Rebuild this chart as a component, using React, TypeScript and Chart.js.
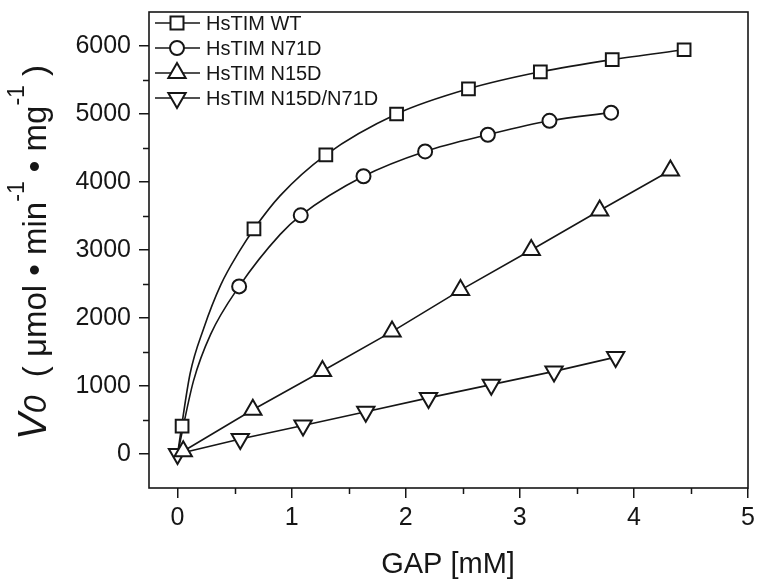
import React, { useEffect, useRef } from 'react';
import { Chart, registerables } from 'chart.js';

Chart.register(...registerables);

// ---- data ----
const WT_X = [0.04, 0.67, 1.3, 1.92, 2.55, 3.18, 3.81, 4.44];
const WT_Y = [410, 3310, 4400, 5000, 5370, 5620, 5800, 5945];
const N71D_X = [0.54, 1.08, 1.63, 2.17, 2.72, 3.26, 3.8];
const N71D_Y = [2465, 3510, 4085, 4450, 4695, 4900, 5020];
const N15D_X = [0.05, 0.66, 1.27, 1.88, 2.48, 3.1, 3.7, 4.32];
const N15D_Y = [40, 650, 1220, 1800, 2410, 3000, 3580, 4170];
const DM_X = [0, 0.55, 1.1, 1.65, 2.2, 2.75, 3.3, 3.84];
const DM_Y = [0, 220, 420, 620, 825, 1020, 1215, 1425];

// fitted curves
const WT_FIT_X = [0, 0.11, 0.23, 0.38, 0.54, 0.67, 0.9, 1.3, 1.92, 2.55, 3.18, 3.81, 4.44];
const WT_FIT_Y = [0, 1180, 1850, 2490, 2975, 3310, 3800, 4400, 5000, 5370, 5620, 5800, 5945];
const N71D_FIT_X = [0, 0.14, 0.29, 0.54, 0.9, 1.08, 1.63, 2.17, 2.72, 3.26, 3.8];
const N71D_FIT_Y = [0, 1075, 1760, 2465, 3230, 3510, 4085, 4450, 4695, 4900, 5020];

const SERIES_LABELS = ['HsTIM WT', 'HsTIM N71D', 'HsTIM N15D', 'HsTIM N15D/N71D'];
const X_TICKS = [0, 1, 2, 3, 4, 5];
const X_MINOR = [0.5, 1.5, 2.5, 3.5, 4.5];
const Y_TICKS = [0, 1000, 2000, 3000, 4000, 5000, 6000];
const Y_MINOR = [500, 1500, 2500, 3500, 4500, 5500];
const X_TITLE = 'GAP [mM]';

const FONT = "'Liberation Sans', Arial, sans-serif";
const INK = '#161616';

const pts = (xs: number[], ys: number[]) => xs.map((x, i) => ({ x, y: ys[i] }));

function drawMarker(ctx: CanvasRenderingContext2D, style: string, x: number, y: number) {
  ctx.beginPath();
  if (style === 'rect') {
    const s = 6.5;
    ctx.rect(x - s, y - s, 2 * s, 2 * s);
  } else if (style === 'circle') {
    ctx.arc(x, y, 7, 0, Math.PI * 2);
  } else {
    const r = 10;
    const d = style === 'triangle' ? 1 : -1;
    ctx.moveTo(x, y - d * r);
    ctx.lineTo(x + r * 0.866, y + (d * r) / 2);
    ctx.lineTo(x - r * 0.866, y + (d * r) / 2);
    ctx.closePath();
  }
  ctx.fillStyle = '#fff';
  ctx.fill();
  ctx.lineWidth = 2;
  ctx.strokeStyle = INK;
  ctx.stroke();
}

const decorPlugin = {
  id: 'decor',
  afterDraw(chart: any) {
    const ctx: CanvasRenderingContext2D = chart.ctx;
    const { left, right, top, bottom } = chart.chartArea;
    const xs = chart.scales.x;
    const ys = chart.scales.y;
    ctx.save();
    // frame
    ctx.strokeStyle = INK;
    ctx.lineWidth = 1.6;
    ctx.strokeRect(left, top, right - left, bottom - top);
    // minor ticks
    ctx.beginPath();
    X_MINOR.forEach((v) => {
      const p = Math.round(xs.getPixelForValue(v)) + 0.5;
      ctx.moveTo(p, bottom);
      ctx.lineTo(p, bottom + 6);
    });
    Y_MINOR.forEach((v) => {
      const p = Math.round(ys.getPixelForValue(v)) + 0.5;
      ctx.moveTo(left, p);
      ctx.lineTo(left - 6, p);
    });
    ctx.lineWidth = 1.5;
    ctx.stroke();

    // legend
    const styles = ['rect', 'circle', 'triangle', 'triangleDown'];
    const rowY = [23, 48, 73, 98];
    SERIES_LABELS.forEach((lab, i) => {
      const y = rowY[i];
      ctx.beginPath();
      ctx.moveTo(155, y);
      ctx.lineTo(200, y);
      ctx.lineWidth = 1.6;
      ctx.strokeStyle = INK;
      ctx.stroke();
      drawMarker(ctx, styles[i], 177, y);
      ctx.fillStyle = INK;
      ctx.font = `20px ${FONT}`;
      ctx.textAlign = 'left';
      ctx.textBaseline = 'middle';
      ctx.fillText(lab, 206, y + 1);
    });

    // x title
    ctx.fillStyle = INK;
    ctx.font = `29px ${FONT}`;
    ctx.textAlign = 'center';
    ctx.textBaseline = 'middle';
    ctx.fillText(X_TITLE, 448, 565);

    // y title (rotated, with italic V0 and superscripts)
    const segs = [
      { t: 'V', size: 40, italic: true, dy: 0 },
      { t: '0', size: 32, italic: true, dy: 0 },
      { t: '  ( \u03bcmol \u2022 min', size: 33, italic: false, dy: 0 },
      { t: '-1', size: 23, italic: false, dy: -22 },
      { t: ' \u2022 mg', size: 33, italic: false, dy: 0 },
      { t: '-1', size: 23, italic: false, dy: -22 },
      { t: ' )', size: 33, italic: false, dy: 0 },
    ];
    ctx.translate(46, 440);
    ctx.rotate(-Math.PI / 2);
    ctx.textAlign = 'left';
    ctx.textBaseline = 'alphabetic';
    let cx = 0;
    segs.forEach((s) => {
      ctx.font = `${s.italic ? 'italic ' : ''}${s.size}px ${FONT}`;
      ctx.fillText(s.t, cx, s.dy);
      cx += ctx.measureText(s.t).width;
    });
    ctx.restore();
  },
};

export default function App() {
  const ref = useRef<HTMLCanvasElement | null>(null);

  useEffect(() => {
    if (!ref.current) return;
    const markerBase = {
      showLine: false,
      borderColor: INK,
      backgroundColor: '#fff',
      pointBorderWidth: 2,
      pointBackgroundColor: '#fff',
      pointBorderColor: INK,
      order: 0,
    };
    const chart = new Chart(ref.current, {
      type: 'scatter',
      data: {
        datasets: [
          { ...markerBase, label: SERIES_LABELS[0], data: pts(WT_X, WT_Y), pointStyle: 'rect', pointRadius: 9 },
          { ...markerBase, label: SERIES_LABELS[1], data: pts(N71D_X, N71D_Y), pointStyle: 'circle', pointRadius: 7 },
          {
            ...markerBase,
            label: SERIES_LABELS[2],
            data: pts(N15D_X, N15D_Y),
            pointStyle: 'triangle',
            pointRadius: 10,
            showLine: true,
            borderWidth: 1.6,
            tension: 0,
          },
          {
            ...markerBase,
            label: SERIES_LABELS[3],
            data: pts(DM_X, DM_Y),
            pointStyle: 'triangle',
            pointRotation: 180,
            pointRadius: 10,
            showLine: true,
            borderWidth: 1.6,
            tension: 0,
          },
          {
            label: 'WT fit',
            data: pts(WT_FIT_X, WT_FIT_Y),
            showLine: true,
            pointRadius: 0,
            borderColor: INK,
            borderWidth: 1.6,
            cubicInterpolationMode: 'monotone',
            order: 1,
          },
          {
            label: 'N71D fit',
            data: pts(N71D_FIT_X, N71D_FIT_Y),
            showLine: true,
            pointRadius: 0,
            borderColor: INK,
            borderWidth: 1.6,
            cubicInterpolationMode: 'monotone',
            order: 1,
          },
        ] as any,
      },
      options: {
        animation: false,
        responsive: false,
        maintainAspectRatio: false,
        layout: { padding: { left: 0, right: 18, top: 10, bottom: 0 } },
        plugins: { legend: { display: false }, tooltip: { enabled: false } },
        scales: {
          x: {
            type: 'linear',
            min: -0.25,
            max: 5,
            afterBuildTicks: (s: any) => {
              s.ticks = X_TICKS.map((v) => ({ value: v }));
            },
            afterFit: (s: any) => {
              s.height = 97;
              s.paddingLeft = 0;
              s.paddingRight = 0;
            },
            grid: { drawOnChartArea: false, drawTicks: true, tickLength: 10, color: INK, lineWidth: 1.5 },
            border: { display: false },
            ticks: { color: INK, font: { family: FONT, size: 25 }, padding: 5, maxRotation: 0, callback: (v: any) => String(v) },
          },
          y: {
            type: 'linear',
            min: -500,
            max: 6500,
            afterBuildTicks: (s: any) => {
              s.ticks = Y_TICKS.map((v) => ({ value: v }));
            },
            afterFit: (s: any) => {
              s.width = 149;
              s.paddingTop = 0;
              s.paddingBottom = 0;
            },
            grid: { drawOnChartArea: false, drawTicks: true, tickLength: 10, color: INK, lineWidth: 1.5 },
            border: { display: false },
            ticks: { color: INK, font: { family: FONT, size: 25 }, padding: 8, callback: (v: any) => String(v) },
          },
        },
      } as any,
      plugins: [decorPlugin],
    });
    return () => chart.destroy();
  }, []);

  return (
    <div style={{ position: 'absolute', left: 0, top: 0, width: 766, height: 585, background: '#fff' }}>
      <canvas ref={ref} width={766} height={585} style={{ display: 'block' }} />
    </div>
  );
}
